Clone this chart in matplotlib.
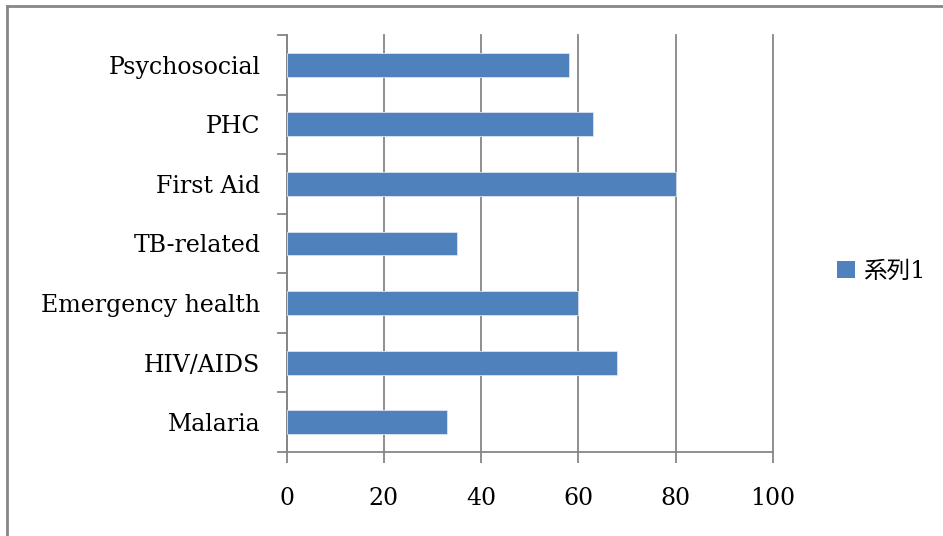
import matplotlib
matplotlib.use("Agg")
import matplotlib.pyplot as plt
from matplotlib.lines import Line2D
from matplotlib.patches import Patch

categories = ["Malaria", "HIV/AIDS", "Emergency health", "TB-related",
              "First Aid", "PHC", "Psychosocial"]
values = [33, 68, 60, 35, 80, 63, 58]
series_name = "系列1"
x_ticks = [0, 20, 40, 60, 80, 100]

bar_color = "#4F81BD"
grid_color = "#868686"
label_font = "DejaVu Serif"

fig = plt.figure(figsize=(9.43, 5.36), dpi=100)
ax = fig.add_axes([286.7 / 943, 1 - 452 / 536, (773 - 286.7) / 943, (452 - 35) / 536])

ypos = list(range(len(categories)))
ax.barh(ypos, values, height=0.4, color=bar_color, edgecolor="#dbe4f1",
        linewidth=0.6, zorder=3)

ax.set_xlim(0, 100)
ax.set_ylim(-0.5, len(categories) - 0.5)
ax.set_xticks(x_ticks)
ax.set_xticklabels([str(t) for t in x_ticks], family=label_font, fontsize=17)
ax.set_yticks(ypos)
ax.set_yticklabels(categories, family=label_font, fontsize=17)
ax.tick_params(axis="y", length=0, pad=19)
ax.tick_params(axis="x", length=8, width=1.3, color=grid_color, pad=17)

# category boundary tick marks on the value axis
for b in [i - 0.5 for i in range(len(categories) + 1)]:
    ax.plot([-0.018, 0], [b, b], transform=ax.get_yaxis_transform(),
            color=grid_color, lw=1.3, clip_on=False, zorder=4)

ax.grid(axis="x", color=grid_color, lw=1.3, zorder=0)
for gl in ax.get_xgridlines():
    gl.set_clip_on(False)
for side in ["top", "right"]:
    ax.spines[side].set_visible(False)
for side in ["left", "bottom"]:
    ax.spines[side].set_color(grid_color)
    ax.spines[side].set_linewidth(1.3)

handle = Patch(facecolor=bar_color, edgecolor="none")
leg = fig.legend([handle], [series_name], loc="center left",
                 bbox_to_anchor=(837 / 943, 1 - 271 / 536), frameon=False,
                 prop={"family": [label_font, "Noto Sans CJK JP"], "size": 17},
                 handlelength=0.75, handleheight=0.75, handletextpad=0.35,
                 borderpad=0, borderaxespad=0)

# chart area outline
fig.add_artist(Line2D([6.5 / 943, 1], [1 - 6 / 536, 1 - 6 / 536],
                      transform=fig.transFigure, color=grid_color, lw=2))
fig.add_artist(Line2D([6.5 / 943, 6.5 / 943], [0, 1 - 6 / 536],
                      transform=fig.transFigure, color=grid_color, lw=2))

fig.savefig("out.png", dpi=100)
